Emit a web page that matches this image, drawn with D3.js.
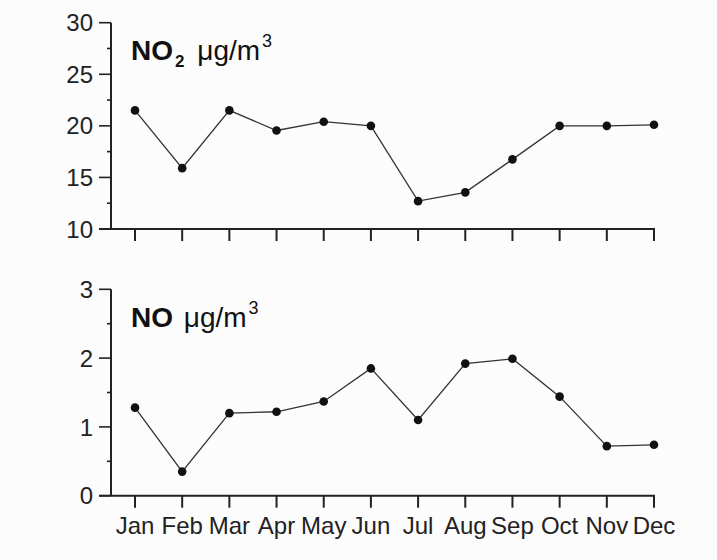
<!DOCTYPE html>
<html>
<head>
<meta charset="utf-8">
<script src="https://cdn.jsdelivr.net/npm/d3@7"></script>
<style>
    body { margin: 0; background: #fcfcfc; }
    svg { display: block; font-family: "Liberation Sans", Arial, sans-serif; }
</style>
</head>
<body>
<svg id="chart"></svg>
<script>
const months = ["Jan", "Feb", "Mar", "Apr", "May", "Jun", "Jul", "Aug", "Sep", "Oct", "Nov", "Dec"];

const no2Values = [21.5, 15.9, 21.5, 19.55, 20.4, 20.0, 12.7, 13.55, 16.75, 20.0, 20.0, 20.1];
const noValues = [1.28, 0.35, 1.2, 1.22, 1.37, 1.85, 1.1, 1.92, 1.99, 1.44, 0.72, 0.74];

const no2Ticks = [10, 15, 20, 25, 30];
const no2MinorTicks = [12.5, 17.5, 22.5, 27.5];
const noTicks = [0, 1, 2, 3];
const noMinorTicks = [0.5, 1.5, 2.5];

const width = 717;
const height = 560;

const svg = d3.select('#chart')
    .attr('width', width)
    .attr('height', height);

const x = d3.scalePoint()
    .domain(months)
    .range([135, 654]);

// Function to draw one panel
function drawPanel(opts) {
    const y = d3.scaleLinear()
        .domain(opts.domain)
        .range([opts.bottom, opts.top]);

    const g = svg.append('g');

    // minor y ticks
    g.selectAll('.minor')
        .data(opts.minor)
        .enter().append('line')
        .attr('x1', 107).attr('x2', 111)
        .attr('y1', d => y(d)).attr('y2', d => y(d))
        .attr('stroke', '#222').attr('stroke-width', 1.6);

    // major y ticks
    g.selectAll('.major')
        .data(opts.ticks)
        .enter().append('line')
        .attr('x1', 99).attr('x2', 111)
        .attr('y1', d => y(d)).attr('y2', d => y(d))
        .attr('stroke', '#222').attr('stroke-width', 1.6);

    g.selectAll('.ylab')
        .data(opts.ticks)
        .enter().append('text')
        .attr('x', 93)
        .attr('y', d => y(d))
        .attr('dy', '0.36em')
        .attr('text-anchor', 'end')
        .attr('font-size', 24)
        .attr('fill', '#222')
        .text(d => d);

    // axis lines
    g.append('line')
        .attr('x1', 111).attr('x2', 111)
        .attr('y1', y(opts.domain[1])).attr('y2', y(opts.domain[0]))
        .attr('stroke', '#222').attr('stroke-width', 2);
    g.append('line')
        .attr('x1', 99).attr('x2', x('Dec') + 1)
        .attr('y1', y(opts.domain[0])).attr('y2', y(opts.domain[0]))
        .attr('stroke', '#222').attr('stroke-width', 2);

    // x ticks
    g.selectAll('.xtick')
        .data(months)
        .enter().append('line')
        .attr('x1', d => x(d)).attr('x2', d => x(d))
        .attr('y1', y(opts.domain[0])).attr('y2', y(opts.domain[0]) + 12)
        .attr('stroke', '#222').attr('stroke-width', 2);

    if (opts.monthLabels) {
        g.selectAll('.xlab')
            .data(months)
            .enter().append('text')
            .attr('x', d => x(d))
            .attr('y', y(opts.domain[0]) + 38)
            .attr('text-anchor', 'middle')
            .attr('font-size', 24)
            .attr('fill', '#222')
            .text(d => d);
    }

    // data line
    const line = d3.line()
        .x((d, i) => x(months[i]))
        .y(d => y(d));

    g.append('path')
        .datum(opts.values)
        .attr('d', line)
        .attr('fill', 'none')
        .attr('stroke', '#333')
        .attr('stroke-width', 1.3);

    g.selectAll('.dot')
        .data(opts.values)
        .enter().append('circle')
        .attr('cx', (d, i) => x(months[i]))
        .attr('cy', d => y(d))
        .attr('r', 4.3)
        .attr('fill', '#111');

    // panel title
    const title = g.append('text')
        .attr('x', 131)
        .attr('y', opts.titleY)
        .attr('font-size', 28)
        .attr('fill', '#111');
    title.append('tspan').attr('font-weight', 'bold').text(opts.name);
    if (opts.sub) {
        title.append('tspan').attr('font-weight', 'bold').attr('font-size', 17)
            .attr('dx', 2).attr('dy', 7).text(opts.sub);
        title.append('tspan').attr('dx', 5).attr('dy', -7).text('\u00a0μg/m');
    } else {
        title.append('tspan').attr('dx', 3).text('\u00a0μg/m');
    }
    title.append('tspan').attr('font-size', 18).attr('dx', 2).attr('dy', -13).text('3');
}

drawPanel({
    values: no2Values, domain: [10, 30], top: 22.7, bottom: 229,
    ticks: no2Ticks, minor: no2MinorTicks,
    name: 'NO', sub: '2', titleY: 60, monthLabels: false
});

drawPanel({
    values: noValues, domain: [0, 3], top: 289.3, bottom: 495.7,
    ticks: noTicks, minor: noMinorTicks,
    name: 'NO', sub: null, titleY: 327, monthLabels: true
});
</script>
</body>
</html>
